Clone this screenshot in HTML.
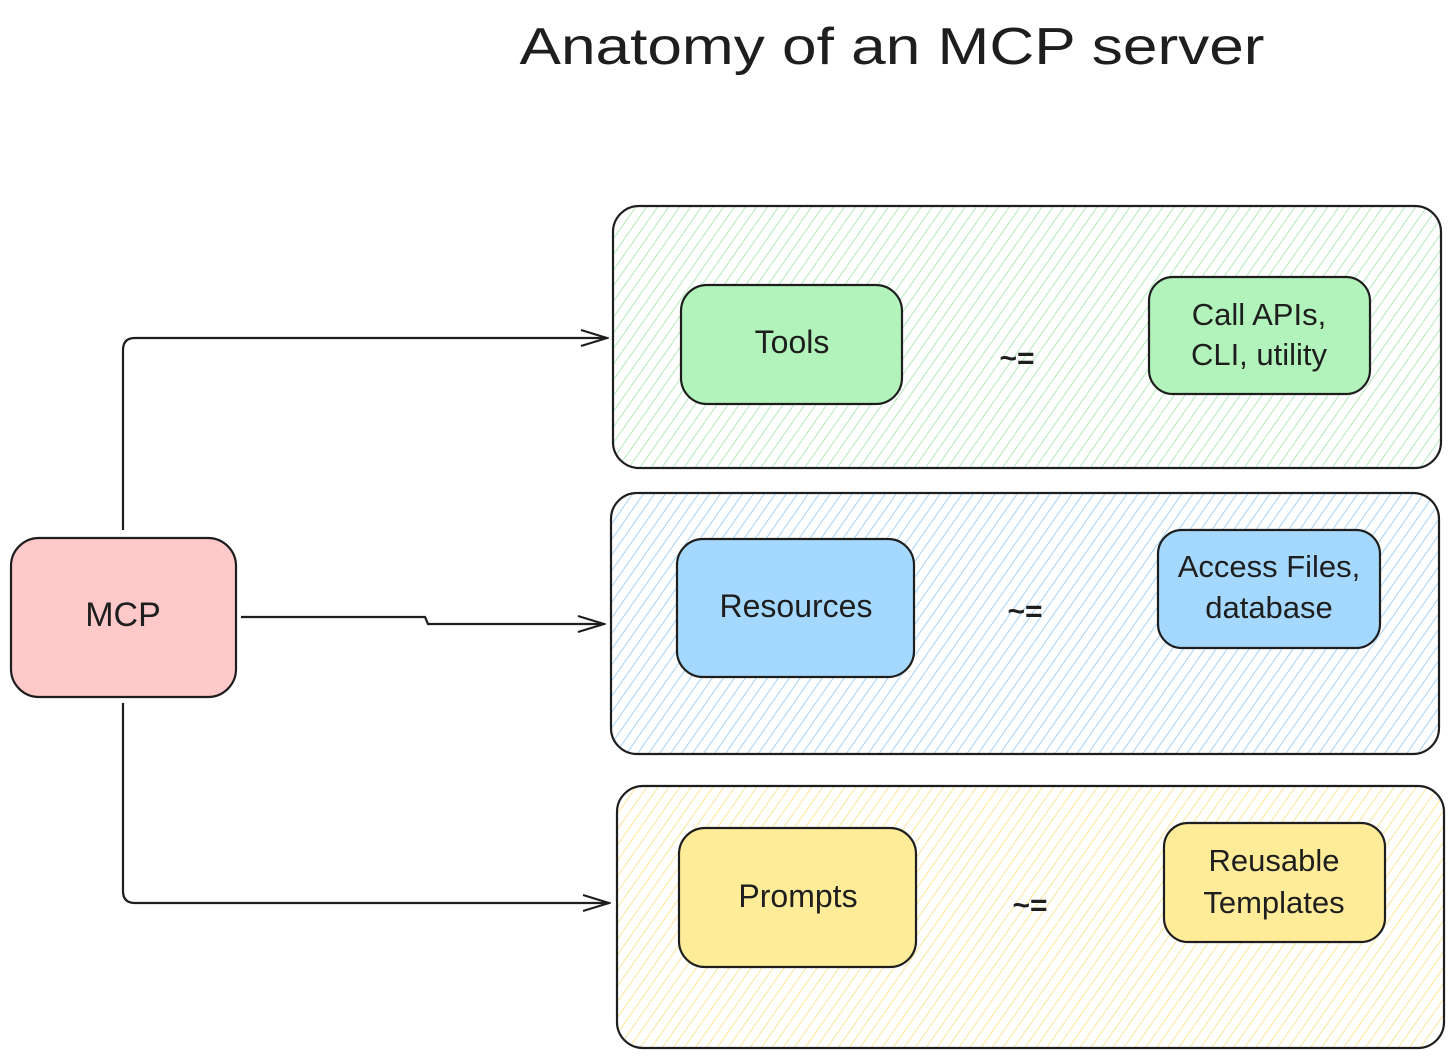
<!DOCTYPE html>
<html><head><meta charset="utf-8"><style>
html,body{margin:0;padding:0;background:#fff}
svg{display:block}
text{font-family:"Liberation Sans",sans-serif;fill:#1e1e1e}
</style></head><body>
<svg width="1456" height="1060" viewBox="0 0 1456 1060" xmlns="http://www.w3.org/2000/svg">
<defs>
<pattern id="hg" width="9" height="9" patternUnits="userSpaceOnUse" patternTransform="rotate(35)"><line x1="0" y1="0" x2="0" y2="9" stroke="#9fe6aa" stroke-width="1.6"/></pattern>
<pattern id="hb" width="9" height="9" patternUnits="userSpaceOnUse" patternTransform="rotate(35)"><line x1="0" y1="0" x2="0" y2="9" stroke="#94ccf7" stroke-width="1.7"/></pattern>
<pattern id="hy" width="9" height="9" patternUnits="userSpaceOnUse" patternTransform="rotate(35)"><line x1="0" y1="0" x2="0" y2="9" stroke="#f7e285" stroke-width="1.7"/></pattern>
<marker id="ar" markerWidth="30" markerHeight="20" refX="28" refY="10" orient="auto" markerUnits="userSpaceOnUse"><path d="M2,2 L28,10 L2,18" fill="none" stroke="#1e1e1e" stroke-width="2.2"/></marker>
</defs>
<text x="892" y="64" text-anchor="middle" font-size="52" textLength="745" lengthAdjust="spacingAndGlyphs">Anatomy of an MCP server</text>

<rect x="613" y="206" width="828" height="262" rx="26" fill="url(#hg)" stroke="#1e1e1e" stroke-width="2.2"/>
<rect x="611" y="493" width="828" height="261" rx="26" fill="url(#hb)" stroke="#1e1e1e" stroke-width="2.2"/>
<rect x="617" y="786" width="827" height="262" rx="26" fill="url(#hy)" stroke="#1e1e1e" stroke-width="2.2"/>

<rect x="11" y="538" width="225" height="159" rx="28" fill="#ffc9c9" stroke="#1e1e1e" stroke-width="2.2"/>
<text x="123" y="626" text-anchor="middle" font-size="34">MCP</text>

<rect x="681" y="285" width="221" height="119" rx="26" fill="#b2f2bb" stroke="#1e1e1e" stroke-width="2.2"/>
<text x="792" y="353" text-anchor="middle" font-size="32">Tools</text>
<text x="1017" y="368" text-anchor="middle" font-size="30" font-weight="bold">~=</text>
<rect x="1149" y="277" width="221" height="117" rx="24" fill="#b2f2bb" stroke="#1e1e1e" stroke-width="2.2"/>
<text x="1259" y="325" text-anchor="middle" font-size="31">Call APIs,</text>
<text x="1259" y="365" text-anchor="middle" font-size="31">CLI, utility</text>

<rect x="677" y="539" width="237" height="138" rx="26" fill="#a5d8ff" stroke="#1e1e1e" stroke-width="2.2"/>
<text x="796" y="617" text-anchor="middle" font-size="32">Resources</text>
<text x="1025" y="621" text-anchor="middle" font-size="30" font-weight="bold">~=</text>
<rect x="1158" y="530" width="222" height="118" rx="24" fill="#a5d8ff" stroke="#1e1e1e" stroke-width="2.2"/>
<text x="1269" y="577" text-anchor="middle" font-size="31">Access Files,</text>
<text x="1269" y="618" text-anchor="middle" font-size="31">database</text>

<rect x="679" y="828" width="237" height="139" rx="26" fill="#ffec99" stroke="#1e1e1e" stroke-width="2.2"/>
<text x="798" y="907" text-anchor="middle" font-size="32">Prompts</text>
<text x="1030" y="915" text-anchor="middle" font-size="30" font-weight="bold">~=</text>
<rect x="1164" y="823" width="221" height="119" rx="24" fill="#ffec99" stroke="#1e1e1e" stroke-width="2.2"/>
<text x="1274" y="871" text-anchor="middle" font-size="31">Reusable</text>
<text x="1274" y="913" text-anchor="middle" font-size="31">Templates</text>

<path d="M123,530 L123,350 Q123,338 135,338 L607,338" fill="none" stroke="#1e1e1e" stroke-width="2.2" marker-end="url(#ar)"/>
<path d="M241,617 L425,617 L428,624 L604,624" fill="none" stroke="#1e1e1e" stroke-width="2.2" marker-end="url(#ar)"/>
<path d="M123,703 L123,891 Q123,903 135,903 L609,903" fill="none" stroke="#1e1e1e" stroke-width="2.2" marker-end="url(#ar)"/>
</svg>
</body></html>
